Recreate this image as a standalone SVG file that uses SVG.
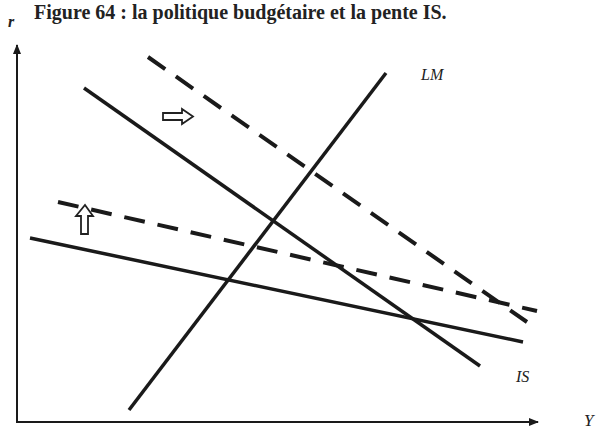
<svg xmlns="http://www.w3.org/2000/svg" width="601" height="430" viewBox="0 0 601 430">
<style>
.solid{stroke:#1a1a1a;stroke-width:3.5;fill:none;stroke-linecap:butt}
.dash{stroke:#1a1a1a;stroke-width:4;fill:none;stroke-dasharray:21 13}
.axis{stroke:#1a1a1a;stroke-width:2;fill:none}
.lbl{font-family:"Liberation Serif",serif;font-style:italic;fill:#222}
.hollow{fill:#fff;stroke:#222;stroke-width:1.8;stroke-linejoin:miter}
</style>
<defs>
<marker id="ah" markerWidth="10" markerHeight="10" refX="9" refY="5" orient="auto" markerUnits="userSpaceOnUse" viewBox="0 0 10 10">
<path d="M0,1 L10,5 L0,9 Z" fill="#1a1a1a"/>
</marker>
</defs>
<rect width="601" height="430" fill="#fff"/>
<text x="34" y="19" font-family="Liberation Serif,serif" font-weight="bold" font-size="20" fill="#222">Figure 64 : la politique budgétaire et la pente IS.</text>
<g id="axes">
<line class="axis" x1="17" y1="423" x2="17" y2="45" marker-end="url(#ah)"/>
<line class="axis" x1="17" y1="422" x2="538" y2="422" marker-end="url(#ah)"/>
<text class="lbl" x="8" y="27" font-size="16" font-weight="bold">r</text>
<text class="lbl" x="584" y="426" font-size="17">Y</text>
</g>
<g id="connectors">
<line id="LM" class="solid" x1="129" y1="410" x2="386" y2="73"/>
<line id="IS-steep" class="solid" x1="84" y1="88" x2="480" y2="366"/>
<line id="IS-flat" class="solid" x1="30" y1="238" x2="523" y2="342"/>
<line id="IS-steep-shift" class="dash" x1="148" y1="57" x2="527" y2="322"/>
<line id="IS-flat-shift" class="dash" x1="58" y1="202" x2="537" y2="311"/>
</g>
<g id="label-LM"><text class="lbl" x="421" y="80" font-size="16">LM</text></g>
<g id="label-IS"><text class="lbl" x="516" y="382" font-size="16">IS</text></g>
<g id="arrow-right"><path class="hollow" d="M163,113 L182,113 L182,109 L193,116.5 L182,124 L182,120 L163,120 Z"/></g>
<g id="arrow-up"><path class="hollow" d="M81,234 L81,216 L76,216 L85,205 L93,216 L88,216 L88,234 Z"/></g>
</svg>
